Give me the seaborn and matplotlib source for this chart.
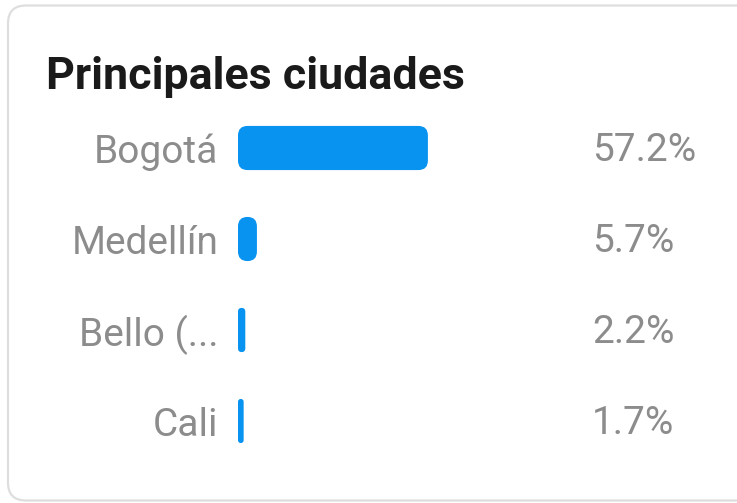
import matplotlib
matplotlib.use("Agg")
import matplotlib.pyplot as plt
from matplotlib.patches import FancyBboxPatch
from matplotlib.transforms import blended_transform_factory, offset_copy
import seaborn as sns
import pandas as pd

# Data
ciudades = ["Bogotá", "Medellín", "Bello (...", "Cali"]
porcentajes = [57.2, 5.7, 2.2, 1.7]
etiquetas = ["57.2%", "5.7%", "2.2%", "1.7%"]
titulo = "Principales ciudades"

BAR_COLOR = "#0893f0"
LABEL_COLOR = "#8c8c8c"
TITLE_COLOR = "#1a1a1a"

sns.set_theme(style="white")
plt.rcParams["font.family"] = ["Roboto", "DejaVu Sans"]

W, H = 737, 503
fig = plt.figure(figsize=(W / 100, H / 100), dpi=100)
fig.patch.set_facecolor("white")

# Background card with a rounded light-gray border (pixel coordinates)
bg = fig.add_axes([0, 0, 1, 1])
bg.set_xlim(0, W)
bg.set_ylim(H, 0)
bg.axis("off")
bg.add_patch(FancyBboxPatch((8, 5.5), 760, 495, boxstyle="round,pad=0,rounding_size=18",
                            facecolor="white", edgecolor="#dedede", linewidth=1.6))
bg.text(46, 77, titulo, fontsize=32.2, fontweight="bold", color=TITLE_COLOR,
        ha="left", va="center")

# Bar area
ax_left, ax_w = 238, 332
ax_top, ax_h = 102.5, 364
ax = fig.add_axes([ax_left / W, 1 - (ax_top + ax_h) / H, ax_w / W, ax_h / H])
ax.patch.set_alpha(0)

df = pd.DataFrame({"ciudad": ciudades, "pct": porcentajes})
sns.barplot(data=df, x="pct", y="ciudad", orient="h", color=BAR_COLOR,
            width=0.485, saturation=1, ax=ax)
ax.set_xlim(0, 100)
ax.set_ylim(len(ciudades) - 0.5, -0.5)
ax.set_xlabel("")
ax.set_ylabel("")
ax.set_xticks([])
ax.tick_params(axis="y", length=0, pad=14, labelsize=28, labelcolor=LABEL_COLOR)
for s in ax.spines.values():
    s.set_visible(False)

# Replace the square bars by rounded ones built from the same geometry
x_per_px = 100 / ax_w
y_per_px = len(ciudades) / ax_h
aspect = y_per_px / x_per_px
for p in list(ax.patches):
    x, y = p.get_x(), p.get_y()
    w, h = p.get_width(), p.get_height()
    w_px = w / x_per_px
    r_px = min(9.5, w_px / 2)
    p.set_visible(False)
    ax.add_patch(FancyBboxPatch((x, y), w, h,
                                boxstyle=f"round,pad=0,rounding_size={r_px * x_per_px}",
                                mutation_aspect=aspect, facecolor=BAR_COLOR,
                                edgecolor="none", clip_on=False))

# Value labels on the right, nudged a little below the bar centre
trans = blended_transform_factory(fig.transFigure, ax.transData)
trans = offset_copy(trans, fig=fig, y=-2.5, units="dots")
for i, t in enumerate(etiquetas):
    ax.text(592 / W, i, t, transform=trans, fontsize=28, color=LABEL_COLOR,
            ha="left", va="center", clip_on=False)

fig.savefig("out.png", dpi=100, facecolor="white")
